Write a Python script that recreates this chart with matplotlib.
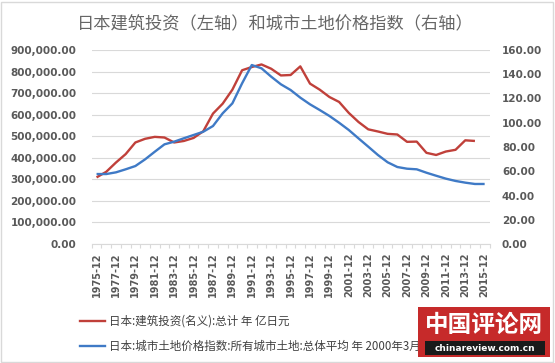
import numpy as np
import matplotlib
matplotlib.use("Agg")
import matplotlib.pyplot as plt
from matplotlib.lines import Line2D
from matplotlib.patches import Rectangle
from matplotlib.ticker import FuncFormatter

plt.rcParams['font.family'] = ['Noto Sans CJK SC', 'DejaVu Sans']

# data
years = list(range(1975, 2016))
year_labels = [f"{y}-12" for y in years]

# construction investment (nominal), 100 million yen -> left axis
construction = [309000, 335000, 378000, 417000, 471000, 488000, 497000, 494000,
                471000, 478000, 492000, 523000, 605000, 651000, 716000, 806000,
                821000, 833000, 813000, 782000, 784000, 824000, 744000, 716000,
                682000, 659000, 608000, 566000, 532000, 522000, 511000, 508000,
                474000, 475000, 423000, 413000, 429000, 437000, 481000, 478000,
                np.nan]

# urban land price index (2000-03 = 100) -> right axis
land_index = [57.7, 57.7, 59.1, 61.6, 64.3, 69.8, 76.1, 82.2, 84.4, 87.2,
              89.9, 92.6, 97.3, 107.8, 116.0, 132.5, 147.6, 144.9, 138.0, 131.7,
              127.0, 120.7, 115.2, 110.5, 105.6, 100.0, 94.0, 87.1, 80.3, 73.4,
              67.4, 63.5, 62.1, 61.6, 58.8, 56.3, 53.9, 52.0, 50.6, 49.5, 49.5]

label_red = "日本:建筑投资(名义):总计 年 亿日元"
label_blue = "日本:城市土地价格指数:所有城市土地:总体平均 年 2000年3月=100"
title = "日本建筑投资（左轴）和城市土地价格指数（右轴）"

red = '#c0403a'
blue = '#3f7ac6'
grey_txt = '#595959'
grid_c = '#d9d9d9'

W, H = 555, 363
fig = plt.figure(figsize=(W / 100, H / 100), dpi=100)
ax = fig.add_axes([91.7 / W, 1 - 244 / H, (489.5 - 91.7) / W, (244 - 50) / H])
ax2 = ax.twinx()

x = np.arange(len(years))
ax.plot(x, construction, color=red, lw=1.7, solid_capstyle='butt')
ax2.plot(x, land_index, color=blue, lw=1.7, solid_capstyle='butt')

ax.set_xlim(-0.5, len(years) - 0.5)
ax.set_ylim(0, 900000)
ax.set_yticks(np.arange(0, 900001, 100000))
ax.yaxis.set_major_formatter(FuncFormatter(lambda v, p: f"{v:,.2f}"))
ax2.set_ylim(0, 160)
ax2.set_yticks(np.arange(0, 161, 20))
ax2.yaxis.set_major_formatter(FuncFormatter(lambda v, p: f"{v:.2f}"))

ax.grid(axis='y', color=grid_c, lw=0.8)
ax.set_axisbelow(True)

ax.set_xticks(x[::2])
ax.set_xticklabels(year_labels[::2], rotation=90)
ax.set_xticks(np.arange(-0.5, len(years), 1), minor=True)
ax.tick_params(axis='x', which='major', length=0, pad=6)
ax.tick_params(axis='x', which='minor', length=3, color=grid_c, width=0.8)
ax.tick_params(axis='y', length=0, pad=11)
ax2.tick_params(axis='y', length=0, pad=9)

for lab in ax.get_yticklabels() + ax2.get_yticklabels():
    lab.set_fontfamily('DejaVu Sans')
    lab.set_fontweight('bold')
    lab.set_fontsize(7.5)
    lab.set_color(grey_txt)
for lab in ax.get_xticklabels():
    lab.set_fontfamily('DejaVu Sans')
    lab.set_fontweight('bold')
    lab.set_fontsize(7)
    lab.set_color(grey_txt)

for s in ['top', 'left', 'right']:
    ax.spines[s].set_visible(False)
for s in ax2.spines.values():
    s.set_visible(False)
ax.spines['bottom'].set_color(grid_c)
ax.spines['bottom'].set_linewidth(0.8)

fig.text(0.496, 1 - 24 / H, title, ha='center', va='center',
         fontsize=12.4, color='#666666')

handles = [Line2D([], [], color=red, lw=1.7), Line2D([], [], color=blue, lw=1.7)]
fig.legend(handles, [label_red, label_blue], loc='upper left',
           bbox_to_anchor=(80 / W, 1 - 315 / H), frameon=False,
           borderpad=0, borderaxespad=0, handlelength=2.2, handletextpad=0.35,
           labelspacing=1.05, prop={'size': 8.3}, labelcolor='#404040')

# watermark
fig.add_artist(Rectangle((418 / W, 1 - 357 / H), 132 / W, 50 / H,
                         transform=fig.transFigure, facecolor='#c62a2a',
                         edgecolor='none', zorder=10))
fig.add_artist(Rectangle((425 / W, 1 - 355 / H), 120 / W, 14 / H,
                         transform=fig.transFigure, facecolor='#1a1a1a',
                         edgecolor='none', zorder=11))
fig.text(484 / W, 1 - 325 / H, "中国评论网", ha='center', va='center',
         fontsize=17, fontweight='bold', color='white', zorder=12)
fig.text(485 / W, 1 - 348.5 / H, "chinareview.com.cn", ha='center', va='center',
         fontsize=6.5, fontweight='bold', color='white', zorder=12,
         family='DejaVu Sans')

# outer border
fig.add_artist(Rectangle((0.5 / W, 1.5 / H), (W - 3) / W, (H - 3) / H,
                         transform=fig.transFigure, fill=False,
                         edgecolor=grid_c, lw=1))

fig.savefig('out.png', dpi=100)
